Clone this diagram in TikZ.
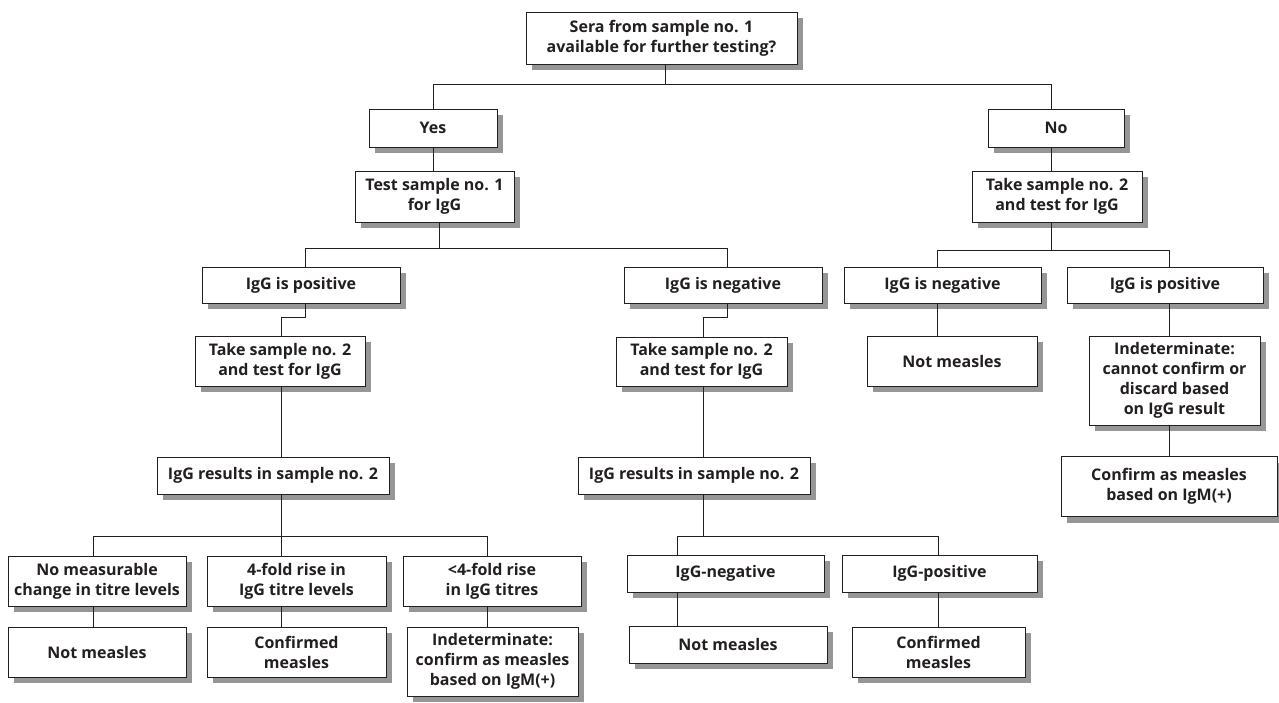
\documentclass[tikz,border=0pt]{standalone}
\usepackage{fontspec}
\setmainfont{Open Sans}
\usetikzlibrary{shadows}
\definecolor{ink}{RGB}{35,31,32}
\definecolor{shade}{RGB}{150,150,152}
\tikzset{
  fbox/.style={draw=ink, line width=1pt, fill=white, align=center, inner sep=0pt,
    text=ink, font=\fontsize{16}{20}\selectfont\bfseries,
    drop shadow={shadow xshift=6pt, shadow yshift=-6pt, fill=shade, opacity=1}},
  conn/.style={draw=ink, line width=1pt}
}
\newcommand{\bx}[6]{\node[fbox, minimum width=#4pt, minimum height=#5pt] (#1) at (#2,#3) {#6};}
\begin{document}
\begin{tikzpicture}[x=1pt, y=-1pt]
\useasboundingbox (0,0) rectangle (1279,702);
% nodes
\bx{top}{661.5}{38}{271}{52}{Sera from sample no. 1\\available for further testing?}
\bx{yes}{433}{128}{128}{38}{Yes}
\bx{no}{1056}{128}{136}{38}{No}
\bx{test1}{434.5}{196.5}{159}{51}{Test sample no. 1\\for IgG}
\bx{take2R}{1057}{196.5}{170}{51}{Take sample no. 2\\and test for IgG}
\bx{posL}{301}{285}{198}{36}{IgG is positive}
\bx{negM}{723}{285}{198}{36}{IgG is negative}
\bx{negR}{942.5}{285}{197}{36}{IgG is negative}
\bx{posR}{1165}{285}{196}{36}{IgG is positive}
\bx{take2L}{280}{361}{170}{50}{Take sample no. 2\\and test for IgG}
\bx{take2M}{701.5}{361.5}{171}{49}{Take sample no. 2\\and test for IgG}
\bx{notR}{952}{361}{170}{50}{Not measles}
\bx{indR}{1174.5}{380.5}{171}{89}{Indeterminate:\\cannot confirm or\\discard based\\on IgG result}
\bx{confR}{1169}{486.5}{216}{60}{Confirm as measles\\based on IgM(+)}
\bx{resL}{273}{475.5}{232}{37}{IgG results in sample no. 2}
\bx{resM}{694}{475.5}{232}{37}{IgG results in sample no. 2}
\bx{nomL}{97}{581}{178}{50}{No measurable\\change in titre levels}
\bx{fourL}{296.5}{581}{179}{50}{4-fold rise in\\IgG titre levels}
\bx{lt4}{492}{581}{178}{50}{<4-fold rise\\in IgG titres}
\bx{notL}{97}{652}{178}{50}{Not measles}
\bx{confL}{296.5}{652}{179}{50}{Confirmed\\measles}
\bx{indL}{492.5}{661.5}{171}{69}{Indeterminate:\\confirm as measles\\based on IgM(+)}
\bx{gneg}{725.5}{573.5}{197}{37}{IgG-negative}
\bx{gpos}{939.5}{573.5}{195}{37}{IgG-positive}
\bx{notM}{728}{644.5}{198}{37}{Not measles}
\bx{confM}{938.5}{652}{173}{50}{Confirmed\\measles}
% junction coordinates
\coordinate (j0) at (665,84);
\coordinate (j0L) at (433,84);
\coordinate (j0R) at (1051,84);
\coordinate (j1) at (439,248);
\coordinate (j1L) at (305,248);
\coordinate (j1R) at (727,248);
\coordinate (j2L) at (937,250);
\coordinate (j2R) at (1169,250);
\coordinate (k1) at (305,317);
\coordinate (k1b) at (281,317);
\coordinate (k2) at (727,317);
\coordinate (k2b) at (703,317);
\coordinate (m1) at (281,536);
\coordinate (m1L) at (93,536);
\coordinate (m1R) at (487,536);
\coordinate (m2) at (703,536);
\coordinate (m2L) at (677,536);
\coordinate (m2R) at (938,536);
% connectors
\begin{scope}[conn]
\draw (top.south -| j0) -- (j0);
\draw (j0L) -- (j0R);
\draw (j0L) -- (yes.north -| j0L);
\draw (j0R) -- (no.north -| j0R);
\draw (yes.south -| j0L) -- (test1.north -| j0L);
\draw (no.south -| j0R) -- (take2R.north -| j0R);
\draw (test1.south -| j1) -- (j1);
\draw (j1L) -- (j1R);
\draw (j1L) -- (posL.north -| j1L);
\draw (j1R) -- (negM.north -| j1R);
\draw (take2R.south -| j0R) -- (j0R |- j2L);
\draw (j2L) -- (j2R);
\draw (j2L) -- (negR.north -| j2L);
\draw (j2R) -- (posR.north -| j2R);
\draw (posL.south -| k1) -- (k1) -- (k1b) -- (take2L.north -| k1b);
\draw (negM.south -| k2) -- (k2) -- (k2b) -- (take2M.north -| k2b);
\draw (negR.south -| j2L) -- (notR.north -| j2L);
\draw (posR.south -| j2R) -- (indR.north -| j2R);
\draw (indR.south -| j2R) -- (confR.north -| j2R);
\draw (take2L.south -| k1b) -- (resL.north -| k1b);
\draw (take2M.south -| k2b) -- (resM.north -| k2b);
\draw (resL.south -| m1) -- (m1);
\draw (m1L) -- (m1R);
\draw (m1L) -- (nomL.north -| m1L);
\draw (m1) -- (fourL.north -| m1);
\draw (m1R) -- (lt4.north -| m1R);
\draw (nomL.south -| m1L) -- (notL.north -| m1L);
\draw (fourL.south -| m1) -- (confL.north -| m1);
\draw (lt4.south -| m1R) -- (indL.north -| m1R);
\draw (resM.south -| m2) -- (m2);
\draw (m2L) -- (m2R);
\draw (m2L) -- (gneg.north -| m2L);
\draw (m2R) -- (gpos.north -| m2R);
\draw (gneg.south -| m2L) -- (notM.north -| m2L);
\draw (gpos.south -| m2R) -- (confM.north -| m2R);
\end{scope}
\end{tikzpicture}
\end{document}
